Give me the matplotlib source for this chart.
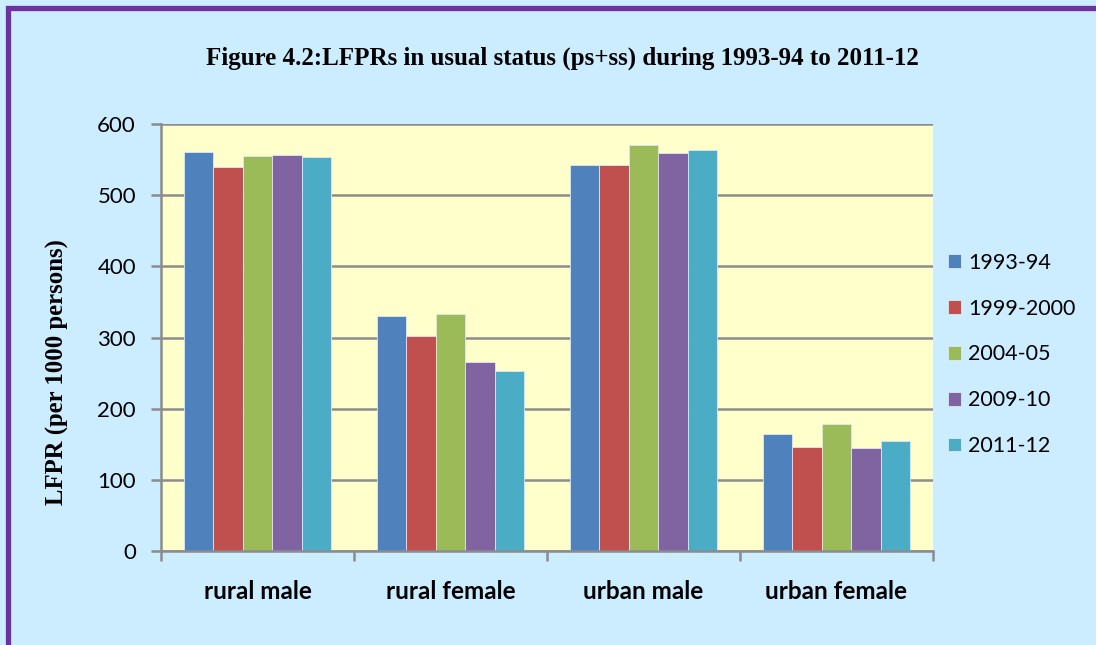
import numpy as np
import matplotlib.pyplot as plt
from matplotlib.patches import Rectangle

# LFPR in usual status (ps+ss), per 1000 persons
categories = ['rural male', 'rural female', 'urban male', 'urban female']
periods = ['1993-94', '1999-2000', '2004-05', '2009-10', '2011-12']
lfpr = {
    '1993-94':   [561, 330, 543, 165],
    '1999-2000': [540, 302, 542, 146],
    '2004-05':   [555, 333, 570, 178],
    '2009-10':   [556, 265, 559, 145],
    '2011-12':   [553, 253, 563, 155],
}
colors = ['#4F81BD', '#C0504D', '#9BBB59', '#8064A2', '#4BACC6']

bg = '#CCECFF'
grid_c = '#8C8C8C'

fig = plt.figure(figsize=(10.96, 6.45), dpi=100, facecolor=bg)
ax = fig.add_axes([161/1096, 1-551/645, (933-161)/1096, (551-124)/645])
ax.set_facecolor('#FFFFCC')

x = np.arange(len(categories))
w = 0.153
for i, p in enumerate(periods):
    ax.bar(x + (i - 2) * w, lfpr[p], width=w, color=colors[i],
           edgecolor='#DDE8F0', linewidth=0.6, zorder=3, label=p)

ax.set_xlim(-0.5, 3.5)
ax.set_ylim(0, 600)
ax.set_yticks(range(0, 601, 100))
ax.yaxis.grid(True, color=grid_c, linewidth=1.8, zorder=0)

# category ticks sit on the boundaries, labels in the middle
ax.set_xticks(np.arange(-0.5, 4, 1))
ax.set_xticklabels([])
ax.set_xticks(x, minor=True)
ax.set_xticklabels(categories, minor=True, fontfamily='Lato',
                   fontweight='bold', fontsize=17.5)
ax.tick_params(axis='x', which='minor', length=0, pad=21)
ax.tick_params(axis='x', which='major', length=7, width=1.8, color=grid_c,
               direction='out')
ax.tick_params(axis='y', length=7, width=1.8, color=grid_c, pad=11,
               labelsize=16)
for lab in ax.get_yticklabels():
    lab.set_fontfamily('Lato')

for s in ['top', 'right']:
    ax.spines[s].set_visible(False)
for s in ['left', 'bottom']:
    ax.spines[s].set_color(grid_c)
    ax.spines[s].set_linewidth(1.8)
    ax.spines[s].set_zorder(4)

fig.text(0.513, 0.91, 'Figure 4.2:LFPRs in usual status (ps+ss) during 1993-94 to 2011-12',
         ha='center', va='center', fontfamily='Liberation Serif',
         fontweight='bold', fontsize=18)
fig.text(0.052, 0.423, 'LFPR (per 1000 persons)', rotation=90,
         ha='center', va='center', fontfamily='Liberation Serif',
         fontweight='bold', fontsize=17.8)

leg = fig.legend(loc='center left', bbox_to_anchor=(0.857, 0.4505),
                 frameon=False, prop={'family': 'Lato', 'size': 15.5},
                 handlelength=0.6, handleheight=0.6, handletextpad=0.35,
                 labelspacing=1.2, borderaxespad=0)

# purple frame (only top and left edges visible in the crop)
fig.patches.append(Rectangle((7.5/1096, -0.2), 1.2, 1.2 - 7.5/645,
                             transform=fig.transFigure, fill=False,
                             edgecolor='#7030A0', linewidth=3.8, clip_on=False))

fig.savefig('out.png', dpi=100, facecolor=bg)
